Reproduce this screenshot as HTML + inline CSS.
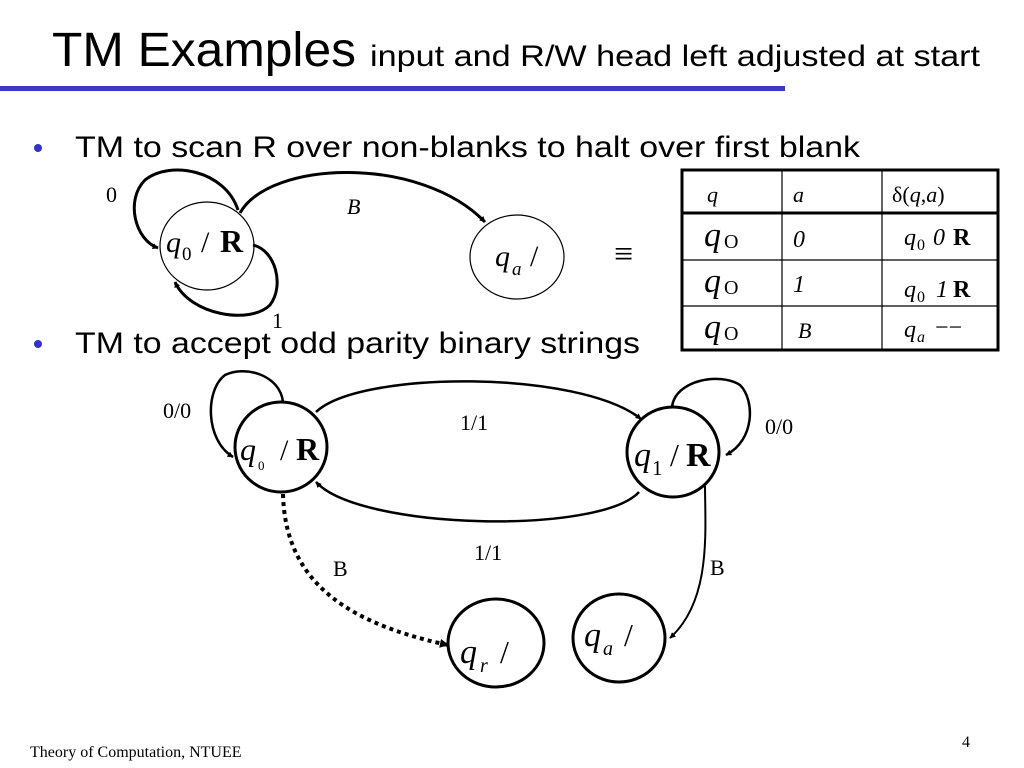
<!DOCTYPE html>
<html><head><meta charset="utf-8"><style>
html,body{margin:0;padding:0;background:#fff;}
svg{display:block;}
</style></head><body>
<svg width="1024" height="768" viewBox="0 0 1024 768" xmlns="http://www.w3.org/2000/svg">
<defs>
<marker id="a" viewBox="0 0 10 10" refX="9" refY="5" markerWidth="6" markerHeight="6" orient="auto-start-reverse" markerUnits="userSpaceOnUse"><path d="M0,0 L10,5 L0,10 z" fill="#000"/></marker>
<marker id="b" viewBox="0 0 10 10" refX="9" refY="5" markerWidth="9" markerHeight="9" orient="auto" markerUnits="userSpaceOnUse"><path d="M0,0 L10,5 L0,10 z" fill="#000"/></marker>
</defs>
<g font-family="Liberation Sans, sans-serif">
<text x="52" y="66" font-size="48" textLength="304" lengthAdjust="spacingAndGlyphs">TM Examples</text>
<text x="370" y="66" font-size="30" textLength="610" lengthAdjust="spacingAndGlyphs">input and R/W head left adjusted at start</text>
<rect x="0" y="86" width="785" height="5" fill="#3a3ac8"/>
<circle cx="38" cy="148" r="4" fill="#3333cc"/>
<text x="75" y="157" font-size="30" textLength="785" lengthAdjust="spacingAndGlyphs">TM to scan R over non-blanks to halt over first blank</text>
<circle cx="38" cy="344" r="4" fill="#3333cc"/>
<text x="75" y="353" font-size="30" textLength="565" lengthAdjust="spacingAndGlyphs">TM to accept odd parity binary strings</text>
</g>
<g font-family="Liberation Serif, serif">
<ellipse cx="207" cy="246" rx="47" ry="44" fill="none" stroke="#000" stroke-width="1.2"/>
<ellipse cx="517" cy="257" rx="47" ry="42" fill="none" stroke="#000" stroke-width="1.2"/>
<text x="166" y="252" font-size="30" font-style="italic">q</text><text x="182" y="260" font-size="19">0</text>
<text x="201" y="252" font-size="30">/</text><text x="220" y="252" font-size="32" font-weight="bold">R</text>
<text x="495" y="266" font-size="30" font-style="italic">q</text><text x="512" y="275" font-size="19" font-style="italic">a</text>
<text x="530" y="266" font-size="30">/</text>
<path d="M238,210 C225,170 170,160 145,180 C125,200 135,240 158,248" fill="none" stroke="#000" stroke-width="3" marker-end="url(#a)"/>
<path d="M253,245 C275,250 285,285 270,305 C250,325 190,315 175,282" fill="none" stroke="#000" stroke-width="3" marker-end="url(#a)"/>
<path d="M240,213 C270,160 420,155 485,222" fill="none" stroke="#000" stroke-width="3" marker-end="url(#a)"/>
<text x="106" y="202" font-size="22">0</text>
<text x="347" y="214" font-size="22" font-style="italic">B</text>
<text x="272" y="328" font-size="22">1</text>
<text x="614" y="265" font-size="34">≡</text>
<g stroke="#000" fill="none">
<rect x="682" y="170" width="316" height="180" stroke-width="3"/>
<line x1="782" y1="170" x2="782" y2="350" stroke-width="1.2"/>
<line x1="882" y1="170" x2="882" y2="350" stroke-width="1.2"/>
<line x1="682" y1="213" x2="998" y2="213" stroke-width="3"/>
<line x1="682" y1="260" x2="998" y2="260" stroke-width="1.2"/>
<line x1="682" y1="306" x2="998" y2="306" stroke-width="1.2"/>
</g>
<text x="707" y="202" font-size="22" font-style="italic">q</text>
<text x="793" y="202" font-size="22" font-style="italic">a</text>
<text x="892" y="202" font-size="22">δ(<tspan font-style="italic">q</tspan>,<tspan font-style="italic">a</tspan>)</text>
<g font-size="24">
<text x="704" y="246" font-size="34" font-style="italic">q</text><text x="724" y="248" font-size="20">O</text>
<text x="704" y="292" font-size="34" font-style="italic">q</text><text x="724" y="294" font-size="20">O</text>
<text x="704" y="338" font-size="34" font-style="italic">q</text><text x="724" y="340" font-size="20">O</text>
<text x="793" y="247" font-style="italic">0</text>
<text x="793" y="292" font-style="italic">1</text>
<text x="798" y="338" font-size="22" font-style="italic">B</text>
<text x="904" y="245" font-style="italic">q</text><text x="917" y="250" font-size="16">0</text><text x="933" y="245" font-style="italic">0</text><text x="953" y="245" font-weight="bold">R</text>
<text x="904" y="297" font-style="italic">q</text><text x="917" y="302" font-size="16">0</text><text x="936" y="297" font-style="italic">1</text><text x="953" y="297" font-weight="bold">R</text>
<text x="904" y="337" font-style="italic">q</text><text x="917" y="342" font-size="16" font-style="italic">a</text><text x="935" y="335">−−</text>
</g>
<g fill="none" stroke="#000">
<ellipse cx="281" cy="447" rx="46" ry="45" stroke-width="3"/>
<ellipse cx="673" cy="452" rx="46" ry="45" stroke-width="3"/>
<ellipse cx="496" cy="643" rx="48" ry="44" stroke-width="3"/>
<ellipse cx="619" cy="638" rx="46" ry="44" stroke-width="3"/>
<path d="M316,412 C360,370 580,370 641,419" stroke-width="2.5" marker-end="url(#a)"/>
<path d="M639,492 C600,535 360,530 316,482" stroke-width="2.5" marker-end="url(#a)"/>
<path d="M283,402 C280,375 245,365 225,375 C205,390 205,440 233,457" stroke-width="2.5" marker-end="url(#a)"/>
<path d="M672,407 C675,380 720,372 740,385 C755,400 755,440 726,455" stroke-width="2.5" marker-end="url(#a)"/>
<path d="M283,494 C285,570 330,620 448,645" stroke-width="4" stroke-dasharray="4,4" marker-end="url(#b)"/>
<path d="M705,484 C705,530 712,600 670,638" stroke-width="2" marker-end="url(#a)"/>
</g>
<text x="240" y="460" font-size="32" font-style="italic">q</text><text x="258" y="470" font-size="13">0</text>
<text x="280" y="460" font-size="30">/</text><text x="296" y="460" font-size="32" font-weight="bold">R</text>
<text x="634" y="466" font-size="34" font-style="italic">q</text><text x="652" y="475" font-size="21">1</text>
<text x="670" y="466" font-size="32">/</text><text x="686" y="466" font-size="34" font-weight="bold">R</text>
<text x="460" y="663" font-size="34" font-style="italic">q</text><text x="480" y="672" font-size="20" font-style="italic">r</text>
<text x="500" y="663" font-size="32">/</text>
<text x="584" y="646" font-size="34" font-style="italic">q</text><text x="603" y="655" font-size="20" font-style="italic">a</text>
<text x="624" y="646" font-size="32">/</text>
<g font-size="22">
<text x="163" y="418">0/0</text>
<text x="460" y="430">1/1</text>
<text x="765" y="434">0/0</text>
<text x="474" y="560">1/1</text>
<text x="333" y="576">B</text>
<text x="710" y="575">B</text>
</g>
<text x="30" y="757" font-size="16">Theory of Computation, NTUEE</text>
<text x="962" y="747" font-size="16">4</text>
</g>
</svg>
</body></html>
